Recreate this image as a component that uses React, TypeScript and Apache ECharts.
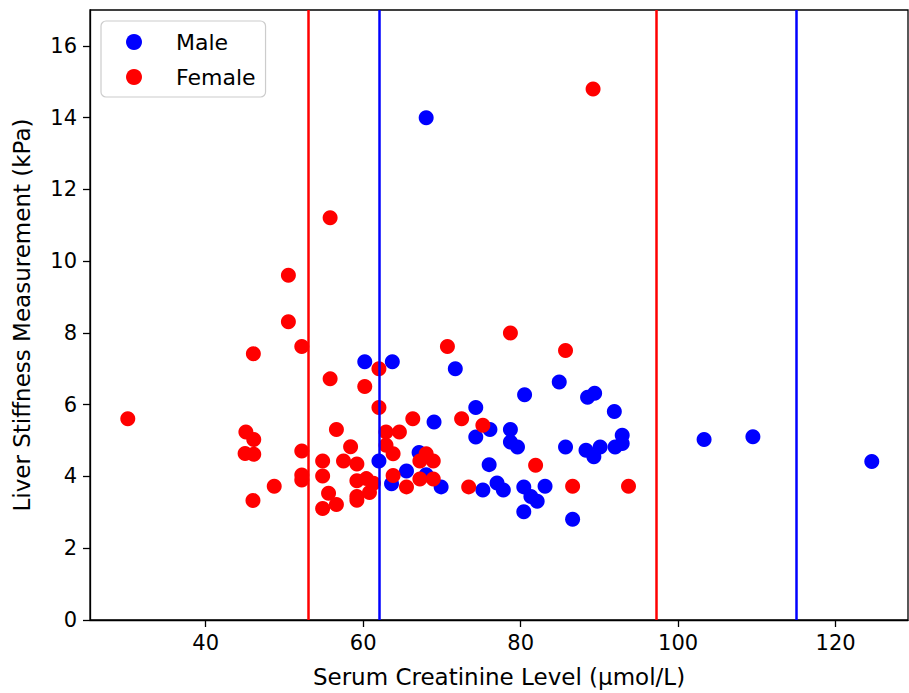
import React, { useEffect, useRef } from 'react';
import * as echarts from 'echarts';

// Male patients: serum creatinine (µmol/L) and liver stiffness (kPa)
const maleCreatinine = [
  60.2, 63.7, 68.0, 71.7, 69.0, 74.3, 74.3, 76.1, 76.0, 78.7, 78.7, 79.6, 80.5, 84.9,
  88.5, 89.4, 91.9, 85.7, 88.3, 89.3, 90.1, 92.0, 92.9, 92.9, 62.0, 67.1, 65.5, 68.0,
  63.6, 69.9, 75.2, 77.0, 77.8, 80.4, 81.3, 80.4, 82.1, 83.1, 86.6, 103.3, 109.5, 124.6,
];
const maleStiffness = [
  7.2, 7.2, 14.0, 7.0, 5.52, 5.92, 5.1, 5.31, 4.33, 5.31, 4.96, 4.82, 6.28, 6.63,
  6.21, 6.32, 5.81, 4.82, 4.73, 4.55, 4.82, 4.82, 5.15, 4.92, 4.43, 4.67, 4.15, 4.05,
  3.8, 3.71, 3.62, 3.82, 3.62, 3.71, 3.44, 3.02, 3.31, 3.73, 2.81, 5.03, 5.11, 4.42,
];

// Female patients
const femaleCreatinine = [
  30.1, 46.05, 45.1, 46.1, 45.0, 46.1, 48.7, 46.0, 50.5, 50.5, 52.2, 52.2, 52.2, 52.2,
  55.8, 55.8, 54.85, 54.85, 55.6, 54.85, 56.6, 56.6, 58.4, 57.5, 59.2, 59.2, 60.4, 61.3,
  59.2, 59.2, 60.8, 60.2, 62.0, 62.0, 62.9, 64.6, 62.9, 63.8, 63.8, 65.5, 66.3, 68.0,
  67.2, 68.9, 67.2, 68.9, 70.7, 72.5, 75.2, 73.4, 78.7, 81.9, 85.7, 86.6, 89.2, 93.7,
];
const femaleStiffness = [
  5.61, 7.42, 5.24, 5.03, 4.64, 4.62, 3.73, 3.33, 9.61, 8.31, 7.62, 4.71, 4.04, 3.9,
  11.21, 6.72, 4.43, 4.01, 3.53, 3.11, 5.31, 3.22, 4.83, 4.43, 4.35, 3.88, 3.94, 3.81,
  3.44, 3.34, 3.55, 6.51, 7.0, 5.92, 5.24, 5.24, 4.87, 4.63, 4.03, 3.71, 5.61, 4.63,
  4.43, 4.43, 3.93, 3.93, 7.62, 5.61, 5.43, 3.71, 8.0, 4.31, 7.51, 3.73, 14.8, 3.73,
];

// Reference lines (creatinine limits)
const femaleRefLines = [53, 97.2];
const maleRefLines = [62, 115];

const xTicks = [40, 60, 80, 100, 120];
const yTicks = [0, 2, 4, 6, 8, 10, 12, 14, 16];

export default function App() {
  const ref = useRef<HTMLDivElement>(null);

  useEffect(() => {
    const chart = echarts.init(ref.current!, null, { renderer: 'svg' });
    const font = 'DejaVu Sans';
    const tickFs = 21;
    const nameFs = 23;
    const pair = (xs: number[], ys: number[]) => xs.map((x, i) => [x, ys[i]]);

    chart.setOption({
      animation: false,
      backgroundColor: '#ffffff',
      grid: {
        left: 90,
        right: 1,
        top: 10,
        bottom: 71,
        show: true,
        borderColor: '#000',
        borderWidth: 1.3,
        backgroundColor: 'transparent',
      },
      legend: {
        data: ['Male', 'Female'],
        orient: 'vertical',
        left: 101,
        top: 21,
        icon: 'circle',
        itemWidth: 16,
        itemHeight: 16,
        itemGap: 13,
        padding: [10, 10, 9, 25],
        borderColor: '#cccccc',
        borderWidth: 1.2,
        borderRadius: 5,
        backgroundColor: 'rgba(255,255,255,0.8)',
        textStyle: {
          fontFamily: font,
          fontSize: 22,
          lineHeight: 22,
          color: '#000',
          padding: [0, 0, 0, 29],
        },
      },
      xAxis: {
        type: 'value',
        min: 25.3,
        max: 129.2,
        name: 'Serum Creatinine Level (µmol/L)',
        nameLocation: 'middle',
        nameGap: 45,
        nameTextStyle: { fontFamily: font, fontSize: nameFs, color: '#000' },
        axisLine: { show: true, onZero: false, lineStyle: { color: '#000', width: 1.3 } },
        axisTick: { show: true, length: 7, lineStyle: { color: '#000', width: 1.3 }, customValues: xTicks },
        axisLabel: { customValues: xTicks, fontFamily: font, fontSize: tickFs, color: '#000', margin: 12 },
        splitLine: { show: false },
      },
      yAxis: {
        type: 'value',
        min: 0,
        max: 17,
        name: 'Liver Stiffness Measurement (kPa)',
        nameLocation: 'middle',
        nameGap: 57,
        nameRotate: 90,
        nameTextStyle: { fontFamily: font, fontSize: nameFs, color: '#000' },
        axisLine: { show: true, onZero: false, lineStyle: { color: '#000', width: 1.3 } },
        axisTick: { show: true, length: 7, lineStyle: { color: '#000', width: 1.3 }, customValues: yTicks },
        axisLabel: { customValues: yTicks, fontFamily: font, fontSize: tickFs, color: '#000', margin: 13 },
        splitLine: { show: false },
      },
      series: [
        {
          name: 'Male',
          type: 'scatter',
          data: pair(maleCreatinine, maleStiffness),
          symbolSize: 15,
          itemStyle: { color: '#0000ff', opacity: 1 },
          z: 2,
        },
        {
          name: 'Female',
          type: 'scatter',
          data: pair(femaleCreatinine, femaleStiffness),
          symbolSize: 15,
          itemStyle: { color: '#ff0000', opacity: 1 },
          z: 3,
        },
        {
          name: 'femaleRef',
          type: 'line',
          data: [],
          z: 4,
          markLine: {
            silent: true,
            symbol: ['none', 'none'],
            label: { show: false },
            lineStyle: { color: '#ff0000', width: 2.5, type: 'solid' },
            data: femaleRefLines.map((v) => ({ xAxis: v })),
          },
        },
        {
          name: 'maleRef',
          type: 'line',
          data: [],
          z: 4,
          markLine: {
            silent: true,
            symbol: ['none', 'none'],
            label: { show: false },
            lineStyle: { color: '#0000ff', width: 2.5, type: 'solid' },
            data: maleRefLines.map((v) => ({ xAxis: v })),
          },
        },
      ],
    });

    return () => chart.dispose();
  }, []);

  return (
    <div
      ref={ref}
      style={{ position: 'fixed', left: 0, top: 0, width: 909, height: 693, background: '#fff' }}
    />
  );
}
